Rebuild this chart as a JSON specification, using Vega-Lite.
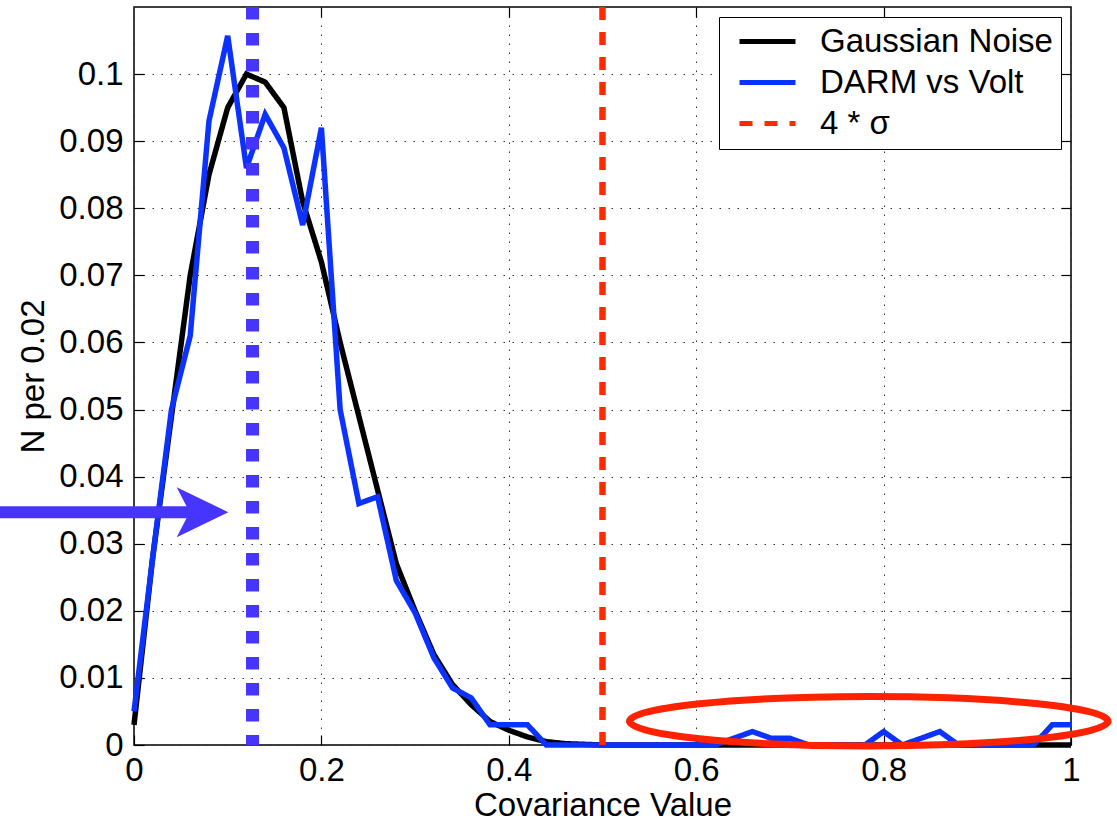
{
  "$schema": "https://vega.github.io/schema/vega-lite/v6.json",
  "width": 937,
  "height": 738,
  "autosize": {"type": "none"},
  "padding": {"left": 134, "top": 7, "right": 46, "bottom": 77},
  "background": "#ffffff",
  "config": {
    "font": "Liberation Sans",
    "view": {"stroke": "#000000", "strokeWidth": 1.5},
    "axis": {
      "labelFont": "Liberation Sans", "titleFont": "Liberation Sans",
      "labelColor": "#000000", "titleColor": "#000000",
      "labelFontSize": 33, "titleFontSize": 33, "titleFontWeight": "normal",
      "tickColor": "#000000", "tickWidth": 1.2, "tickSize": -10,
      "domain": false, "grid": false
    },
    "legend": {
      "orient": "top-right", "offset": 10, "padding": 8,
      "fillColor": "#ffffff", "strokeColor": "#000000",
      "labelFont": "Liberation Sans", "labelFontSize": 33, "labelColor": "#000000",
      "symbolType": "M -4 0 L 4 0", "symbolSize": 196, "symbolStrokeWidth": 5,
      "rowPadding": 7, "labelOffset": 36, "symbolOffset": 24, "labelLimit": 500
    }
  },
  "datasets": {
    "curves": [
      {"x": 0.00, "y": 0.003, "series": "Gaussian Noise"},
      {"x": 0.02, "y": 0.028, "series": "Gaussian Noise"},
      {"x": 0.04, "y": 0.049, "series": "Gaussian Noise"},
      {"x": 0.06, "y": 0.070, "series": "Gaussian Noise"},
      {"x": 0.08, "y": 0.085, "series": "Gaussian Noise"},
      {"x": 0.10, "y": 0.095, "series": "Gaussian Noise"},
      {"x": 0.12, "y": 0.100, "series": "Gaussian Noise"},
      {"x": 0.14, "y": 0.0988, "series": "Gaussian Noise"},
      {"x": 0.16, "y": 0.095, "series": "Gaussian Noise"},
      {"x": 0.18, "y": 0.081, "series": "Gaussian Noise"},
      {"x": 0.20, "y": 0.072, "series": "Gaussian Noise"},
      {"x": 0.22, "y": 0.060, "series": "Gaussian Noise"},
      {"x": 0.24, "y": 0.049, "series": "Gaussian Noise"},
      {"x": 0.26, "y": 0.038, "series": "Gaussian Noise"},
      {"x": 0.28, "y": 0.027, "series": "Gaussian Noise"},
      {"x": 0.30, "y": 0.020, "series": "Gaussian Noise"},
      {"x": 0.32, "y": 0.0135, "series": "Gaussian Noise"},
      {"x": 0.34, "y": 0.009, "series": "Gaussian Noise"},
      {"x": 0.36, "y": 0.006, "series": "Gaussian Noise"},
      {"x": 0.38, "y": 0.0035, "series": "Gaussian Noise"},
      {"x": 0.40, "y": 0.0022, "series": "Gaussian Noise"},
      {"x": 0.42, "y": 0.0012, "series": "Gaussian Noise"},
      {"x": 0.44, "y": 0.0005, "series": "Gaussian Noise"},
      {"x": 0.46, "y": 0.0002, "series": "Gaussian Noise"},
      {"x": 0.48, "y": 0.0001, "series": "Gaussian Noise"},
      {"x": 0.50, "y": 0, "series": "Gaussian Noise"},
      {"x": 0.52, "y": 0, "series": "Gaussian Noise"},
      {"x": 0.54, "y": 0, "series": "Gaussian Noise"},
      {"x": 0.56, "y": 0, "series": "Gaussian Noise"},
      {"x": 0.58, "y": 0, "series": "Gaussian Noise"},
      {"x": 0.60, "y": 0, "series": "Gaussian Noise"},
      {"x": 0.62, "y": 0, "series": "Gaussian Noise"},
      {"x": 0.64, "y": 0, "series": "Gaussian Noise"},
      {"x": 0.66, "y": 0, "series": "Gaussian Noise"},
      {"x": 0.68, "y": 0, "series": "Gaussian Noise"},
      {"x": 0.70, "y": 0, "series": "Gaussian Noise"},
      {"x": 0.72, "y": 0, "series": "Gaussian Noise"},
      {"x": 0.74, "y": 0, "series": "Gaussian Noise"},
      {"x": 0.76, "y": 0, "series": "Gaussian Noise"},
      {"x": 0.78, "y": 0, "series": "Gaussian Noise"},
      {"x": 0.80, "y": 0, "series": "Gaussian Noise"},
      {"x": 0.82, "y": 0, "series": "Gaussian Noise"},
      {"x": 0.84, "y": 0, "series": "Gaussian Noise"},
      {"x": 0.86, "y": 0, "series": "Gaussian Noise"},
      {"x": 0.88, "y": 0, "series": "Gaussian Noise"},
      {"x": 0.90, "y": 0, "series": "Gaussian Noise"},
      {"x": 0.92, "y": 0, "series": "Gaussian Noise"},
      {"x": 0.94, "y": 0, "series": "Gaussian Noise"},
      {"x": 0.96, "y": 0, "series": "Gaussian Noise"},
      {"x": 0.98, "y": 0, "series": "Gaussian Noise"},
      {"x": 1.00, "y": 0, "series": "Gaussian Noise"},
      {"x": 0.00, "y": 0.005, "series": "DARM vs Volt"},
      {"x": 0.02, "y": 0.028, "series": "DARM vs Volt"},
      {"x": 0.04, "y": 0.050, "series": "DARM vs Volt"},
      {"x": 0.06, "y": 0.061, "series": "DARM vs Volt"},
      {"x": 0.08, "y": 0.093, "series": "DARM vs Volt"},
      {"x": 0.10, "y": 0.1057, "series": "DARM vs Volt"},
      {"x": 0.12, "y": 0.086, "series": "DARM vs Volt"},
      {"x": 0.14, "y": 0.094, "series": "DARM vs Volt"},
      {"x": 0.16, "y": 0.089, "series": "DARM vs Volt"},
      {"x": 0.18, "y": 0.0775, "series": "DARM vs Volt"},
      {"x": 0.20, "y": 0.092, "series": "DARM vs Volt"},
      {"x": 0.22, "y": 0.050, "series": "DARM vs Volt"},
      {"x": 0.24, "y": 0.036, "series": "DARM vs Volt"},
      {"x": 0.26, "y": 0.037, "series": "DARM vs Volt"},
      {"x": 0.28, "y": 0.0245, "series": "DARM vs Volt"},
      {"x": 0.30, "y": 0.0197, "series": "DARM vs Volt"},
      {"x": 0.32, "y": 0.013, "series": "DARM vs Volt"},
      {"x": 0.34, "y": 0.0085, "series": "DARM vs Volt"},
      {"x": 0.36, "y": 0.007, "series": "DARM vs Volt"},
      {"x": 0.38, "y": 0.003, "series": "DARM vs Volt"},
      {"x": 0.40, "y": 0.003, "series": "DARM vs Volt"},
      {"x": 0.42, "y": 0.003, "series": "DARM vs Volt"},
      {"x": 0.44, "y": 0, "series": "DARM vs Volt"},
      {"x": 0.46, "y": 0, "series": "DARM vs Volt"},
      {"x": 0.48, "y": 0, "series": "DARM vs Volt"},
      {"x": 0.50, "y": 0, "series": "DARM vs Volt"},
      {"x": 0.52, "y": 0, "series": "DARM vs Volt"},
      {"x": 0.54, "y": 0, "series": "DARM vs Volt"},
      {"x": 0.56, "y": 0, "series": "DARM vs Volt"},
      {"x": 0.58, "y": 0, "series": "DARM vs Volt"},
      {"x": 0.60, "y": 0, "series": "DARM vs Volt"},
      {"x": 0.62, "y": 0, "series": "DARM vs Volt"},
      {"x": 0.64, "y": 0.001, "series": "DARM vs Volt"},
      {"x": 0.66, "y": 0.002, "series": "DARM vs Volt"},
      {"x": 0.68, "y": 0.001, "series": "DARM vs Volt"},
      {"x": 0.70, "y": 0.001, "series": "DARM vs Volt"},
      {"x": 0.72, "y": 0, "series": "DARM vs Volt"},
      {"x": 0.74, "y": 0, "series": "DARM vs Volt"},
      {"x": 0.76, "y": 0, "series": "DARM vs Volt"},
      {"x": 0.78, "y": 0, "series": "DARM vs Volt"},
      {"x": 0.80, "y": 0.002, "series": "DARM vs Volt"},
      {"x": 0.82, "y": 0, "series": "DARM vs Volt"},
      {"x": 0.84, "y": 0.001, "series": "DARM vs Volt"},
      {"x": 0.86, "y": 0.002, "series": "DARM vs Volt"},
      {"x": 0.88, "y": 0, "series": "DARM vs Volt"},
      {"x": 0.90, "y": 0, "series": "DARM vs Volt"},
      {"x": 0.92, "y": 0, "series": "DARM vs Volt"},
      {"x": 0.94, "y": 0, "series": "DARM vs Volt"},
      {"x": 0.96, "y": 0, "series": "DARM vs Volt"},
      {"x": 0.98, "y": 0.003, "series": "DARM vs Volt"},
      {"x": 1.00, "y": 0.003, "series": "DARM vs Volt"}
    ]
  },
  "resolve": {"axis": {"x": "independent", "y": "independent"}},
  "layer": [
    {
      "data": {"name": "curves"},
      "transform": [{"filter": "datum.series === 'Gaussian Noise'"}],
      "mark": {"type": "line", "strokeWidth": 5.5},
      "encoding": {
        "x": {"field": "x", "type": "quantitative",
          "scale": {"domain": [0, 1], "nice": false, "zero": false},
          "axis": {"orient": "bottom", "values": [0, 0.2, 0.4, 0.6, 0.8, 1], "format": "~g",
            "grid": true, "gridDash": [1.5, 7.5], "gridColor": "#333333", "gridWidth": 1, "gridOpacity": 1,
            "labelPadding": 19, "labelFlush": false, "title": "Covariance Value", "titlePadding": 2}},
        "y": {"field": "y", "type": "quantitative",
          "scale": {"domain": [0, 0.11], "nice": false},
          "axis": {"orient": "left", "values": [0, 0.01, 0.02, 0.03, 0.04, 0.05, 0.06, 0.07, 0.08, 0.09, 0.1], "format": "~g",
            "grid": true, "gridDash": [1.5, 7.5], "gridColor": "#333333", "gridWidth": 1, "gridOpacity": 1,
            "labelPadding": 21, "title": "N per 0.02", "titlePadding": 8}},
        "color": {"field": "series", "type": "nominal",
          "scale": {"domain": ["Gaussian Noise", "DARM vs Volt", "4 * σ"], "range": ["#000000", "#0b32ff", "#ff2a00"]},
          "legend": {"title": null}},
        "strokeDash": {"field": "series", "type": "nominal",
          "scale": {"domain": ["Gaussian Noise", "DARM vs Volt", "4 * σ"], "range": [[1, 0], [1, 0], [13, 12]]},
          "legend": {"title": null}}
      }
    },
    {
      "data": {"name": "curves"},
      "transform": [{"filter": "datum.series === 'DARM vs Volt'"}],
      "mark": {"type": "line", "strokeWidth": 5.5},
      "encoding": {
        "x": {"field": "x", "type": "quantitative",
          "scale": {"domain": [0, 1], "nice": false, "zero": false},
          "axis": {"orient": "top", "values": [0.2, 0.4, 0.6, 0.8], "labels": false, "title": null, "grid": false}},
        "y": {"field": "y", "type": "quantitative",
          "scale": {"domain": [0, 0.11], "nice": false},
          "axis": {"orient": "right", "values": [0.01, 0.02, 0.03, 0.04, 0.05, 0.06, 0.07, 0.08, 0.09, 0.1], "labels": false, "title": null, "grid": false}},
        "color": {"field": "series", "type": "nominal",
          "scale": {"domain": ["Gaussian Noise", "DARM vs Volt", "4 * σ"], "range": ["#000000", "#0b32ff", "#ff2a00"]},
          "legend": {"title": null}},
        "strokeDash": {"field": "series", "type": "nominal",
          "scale": {"domain": ["Gaussian Noise", "DARM vs Volt", "4 * σ"], "range": [[1, 0], [1, 0], [13, 12]]},
          "legend": {"title": null}}
      }
    },
    {
      "data": {"values": [{"x": 0.5, "y": 0, "y2": 0.11, "series": "4 * σ"}]},
      "mark": {"type": "rule", "strokeWidth": 6.5, "strokeCap": "butt"},
      "encoding": {
        "x": {"field": "x", "type": "quantitative", "scale": {"domain": [0, 1], "nice": false, "zero": false}, "axis": null},
        "y": {"field": "y", "type": "quantitative", "scale": {"domain": [0, 0.11], "nice": false}, "axis": null},
        "y2": {"field": "y2"},
        "color": {"field": "series", "type": "nominal",
          "scale": {"domain": ["Gaussian Noise", "DARM vs Volt", "4 * σ"], "range": ["#000000", "#0b32ff", "#ff2a00"]},
          "legend": {"title": null}},
        "strokeDash": {"field": "series", "type": "nominal",
          "scale": {"domain": ["Gaussian Noise", "DARM vs Volt", "4 * σ"], "range": [[1, 0], [1, 0], [13, 12]]},
          "legend": {"title": null}}
      }
    },
    {
      "data": {"values": [{"x": 0.1265, "y": 0.11, "y2": 0}]},
      "mark": {"type": "rule", "color": "#4634ff", "strokeWidth": 13, "strokeDash": [12.5, 13.5], "strokeCap": "butt"},
      "encoding": {
        "x": {"field": "x", "type": "quantitative", "scale": {"domain": [0, 1], "nice": false, "zero": false}, "axis": null},
        "y": {"field": "y", "type": "quantitative", "scale": {"domain": [0, 0.11], "nice": false}, "axis": null},
        "y2": {"field": "y2"}
      }
    },
    {
      "data": {"values": [{"x": -0.143, "x2": 0.062, "y": 0.0347}]},
      "mark": {"type": "rule", "color": "#4634ff", "strokeWidth": 12, "strokeCap": "butt"},
      "encoding": {
        "x": {"field": "x", "type": "quantitative", "scale": {"domain": [0, 1], "nice": false, "zero": false}, "axis": null},
        "x2": {"field": "x2"},
        "y": {"field": "y", "type": "quantitative", "scale": {"domain": [0, 0.11], "nice": false}, "axis": null}
      }
    },
    {
      "data": {"values": [{"x": 0.0731, "y": 0.0347}]},
      "mark": {"type": "point", "shape": "M -1 -0.97 L 1 0 L -1 0.97 L -0.5 0 Z", "filled": true, "color": "#4634ff", "opacity": 1, "size": 2663, "strokeWidth": 0},
      "encoding": {
        "x": {"field": "x", "type": "quantitative", "scale": {"domain": [0, 1], "nice": false, "zero": false}, "axis": null},
        "y": {"field": "y", "type": "quantitative", "scale": {"domain": [0, 0.11], "nice": false}, "axis": null}
      }
    },
    {
      "data": {"values": [{"x": 0.7842, "y": 0.00354}]},
      "mark": {"type": "point", "shape": "M -1 0 A 1 0.103 0 1 1 1 0 A 1 0.103 0 1 1 -1 0 Z", "filled": false, "stroke": "#ff2200", "fill": null, "opacity": 1, "size": 229058, "strokeWidth": 7},
      "encoding": {
        "x": {"field": "x", "type": "quantitative", "scale": {"domain": [0, 1], "nice": false, "zero": false}, "axis": null},
        "y": {"field": "y", "type": "quantitative", "scale": {"domain": [0, 0.11], "nice": false}, "axis": null}
      }
    }
  ]
}
